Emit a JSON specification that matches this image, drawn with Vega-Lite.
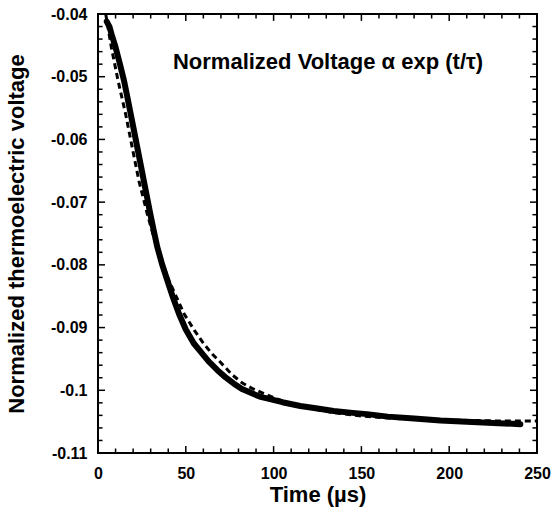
{
  "$schema": "https://vega.github.io/schema/vega-lite/v6.json",
  "width": 439,
  "height": 439,
  "autosize": {"type": "none"},
  "padding": {"left": 98, "top": 14, "right": 14, "bottom": 55},
  "background": "white",
  "config": {
    "view": {"stroke": "black", "strokeWidth": 2},
    "axis": {
      "grid": false,
      "domain": false,
      "ticks": false,
      "tickSize": 0,
      "labelFlush": false,
      "labelColor": "black",
      "titleColor": "black",
      "labelFont": "Liberation Sans",
      "titleFont": "Liberation Sans",
      "labelFontWeight": "bold",
      "titleFontWeight": "bold",
      "labelFontSize": 16,
      "titleFontSize": 22
    }
  },
  "datasets": {
    "measured": [
      {"t": 5.0, "v": -0.0412}, {"t": 6.5, "v": -0.0420}, {"t": 8.0, "v": -0.0435},
      {"t": 10.0, "v": -0.0453}, {"t": 12.4, "v": -0.0479}, {"t": 14.8, "v": -0.0506},
      {"t": 16.7, "v": -0.0532}, {"t": 18.6, "v": -0.0559}, {"t": 20.5, "v": -0.0586},
      {"t": 22.4, "v": -0.0613}, {"t": 24.3, "v": -0.0640}, {"t": 26.1, "v": -0.0666},
      {"t": 28.0, "v": -0.0693}, {"t": 29.8, "v": -0.0719}, {"t": 31.8, "v": -0.0746},
      {"t": 33.8, "v": -0.0772}, {"t": 36.5, "v": -0.0799}, {"t": 39.5, "v": -0.0825},
      {"t": 42.7, "v": -0.0852}, {"t": 46.1, "v": -0.0878}, {"t": 50.0, "v": -0.0903},
      {"t": 54.5, "v": -0.0925}, {"t": 58.3, "v": -0.0938}, {"t": 63.0, "v": -0.0954},
      {"t": 68.0, "v": -0.0968}, {"t": 72.5, "v": -0.0979}, {"t": 77.2, "v": -0.0989},
      {"t": 82.0, "v": -0.0998}, {"t": 87.0, "v": -0.1004}, {"t": 92.0, "v": -0.1010},
      {"t": 96.2, "v": -0.1013}, {"t": 105.0, "v": -0.1019}, {"t": 115.2, "v": -0.1025},
      {"t": 125.0, "v": -0.1029}, {"t": 134.2, "v": -0.1033}, {"t": 145.0, "v": -0.1036},
      {"t": 153.2, "v": -0.1038}, {"t": 165.0, "v": -0.1042}, {"t": 180.0, "v": -0.1045},
      {"t": 195.0, "v": -0.1048}, {"t": 210.0, "v": -0.1050}, {"t": 225.0, "v": -0.1052},
      {"t": 240.5, "v": -0.1054}
    ],
    "fit": [
      {"t": 4.4, "v": -0.0400}, {"t": 7.6, "v": -0.0453}, {"t": 11.4, "v": -0.0506},
      {"t": 15.7, "v": -0.0559}, {"t": 19.5, "v": -0.0613}, {"t": 23.3, "v": -0.0666},
      {"t": 28.1, "v": -0.0719}, {"t": 33.4, "v": -0.0772}, {"t": 40.4, "v": -0.0825},
      {"t": 49.0, "v": -0.0878}, {"t": 55.0, "v": -0.0905}, {"t": 60.0, "v": -0.0925},
      {"t": 65.0, "v": -0.0942}, {"t": 70.0, "v": -0.0956}, {"t": 76.3, "v": -0.0975},
      {"t": 82.0, "v": -0.0988}, {"t": 87.7, "v": -0.0997}, {"t": 95.0, "v": -0.1006},
      {"t": 105.0, "v": -0.1017}, {"t": 115.0, "v": -0.1025}, {"t": 125.0, "v": -0.1031},
      {"t": 135.0, "v": -0.1036}, {"t": 150.0, "v": -0.1041}, {"t": 170.0, "v": -0.1045},
      {"t": 190.0, "v": -0.1047}, {"t": 210.0, "v": -0.1048}, {"t": 230.0, "v": -0.1049},
      {"t": 250.0, "v": -0.1049}
    ],
    "note": [
      {"t": 131, "v": -0.0477, "text": "Normalized Voltage α exp (t/τ)"}
    ],
    "xmajor": [{"t": 50}, {"t": 100}, {"t": 150}, {"t": 200}],
    "xminor": [
      {"t": 10}, {"t": 20}, {"t": 30}, {"t": 40}, {"t": 60}, {"t": 70}, {"t": 80}, {"t": 90},
      {"t": 110}, {"t": 120}, {"t": 130}, {"t": 140}, {"t": 160}, {"t": 170}, {"t": 180}, {"t": 190},
      {"t": 210}, {"t": 220}, {"t": 230}, {"t": 240}
    ],
    "ymajor": [
      {"v": -0.05}, {"v": -0.06}, {"v": -0.07}, {"v": -0.08}, {"v": -0.09}, {"v": -0.1}
    ],
    "yminor": [
      {"v": -0.042}, {"v": -0.044}, {"v": -0.046}, {"v": -0.048},
      {"v": -0.052}, {"v": -0.054}, {"v": -0.056}, {"v": -0.058},
      {"v": -0.062}, {"v": -0.064}, {"v": -0.066}, {"v": -0.068},
      {"v": -0.072}, {"v": -0.074}, {"v": -0.076}, {"v": -0.078},
      {"v": -0.082}, {"v": -0.084}, {"v": -0.086}, {"v": -0.088},
      {"v": -0.092}, {"v": -0.094}, {"v": -0.096}, {"v": -0.098},
      {"v": -0.102}, {"v": -0.104}, {"v": -0.106}, {"v": -0.108}
    ]
  },
  "layer": [
    {
      "data": {"name": "measured"},
      "mark": {"type": "line", "color": "black", "strokeWidth": 6, "strokeCap": "round", "strokeJoin": "round", "clip": true},
      "encoding": {
        "x": {
          "field": "t", "type": "quantitative",
          "scale": {"domain": [0, 250], "nice": false, "zero": false},
          "axis": {"orient": "bottom", "values": [0, 50, 100, 150, 200, 250], "labelPadding": 12, "title": "Time (µs)", "titlePadding": 3}
        },
        "y": {
          "field": "v", "type": "quantitative",
          "scale": {"domain": [-0.11, -0.04], "nice": false, "zero": false},
          "axis": {"orient": "left", "values": [-0.04, -0.05, -0.06, -0.07, -0.08, -0.09, -0.1, -0.11], "labelPadding": 11, "labelExpr": "'-' + format(-datum.value, '~g')", "title": "Normalized thermoelectric voltage", "titlePadding": 22}
        }
      }
    },
    {
      "data": {"name": "fit"},
      "mark": {"type": "line", "color": "black", "strokeWidth": 3, "strokeDash": [6, 4], "clip": true},
      "encoding": {
        "x": {"field": "t", "type": "quantitative", "axis": null},
        "y": {"field": "v", "type": "quantitative", "axis": null}
      }
    },
    {
      "data": {"name": "xmajor"},
      "mark": {"type": "rule", "color": "black", "strokeWidth": 1.5},
      "encoding": {
        "x": {"field": "t", "type": "quantitative", "axis": null},
        "y": {"datum": -0.11, "type": "quantitative", "axis": null},
        "y2": {"datum": -0.1089}
      }
    },
    {
      "data": {"name": "xmajor"},
      "mark": {"type": "rule", "color": "black", "strokeWidth": 1.5},
      "encoding": {
        "x": {"field": "t", "type": "quantitative", "axis": null},
        "y": {"datum": -0.04, "type": "quantitative", "axis": null},
        "y2": {"datum": -0.0411}
      }
    },
    {
      "data": {"name": "xminor"},
      "mark": {"type": "rule", "color": "black", "strokeWidth": 1.5},
      "encoding": {
        "x": {"field": "t", "type": "quantitative", "axis": null},
        "y": {"datum": -0.11, "type": "quantitative", "axis": null},
        "y2": {"datum": -0.10928}
      }
    },
    {
      "data": {"name": "xminor"},
      "mark": {"type": "rule", "color": "black", "strokeWidth": 1.5},
      "encoding": {
        "x": {"field": "t", "type": "quantitative", "axis": null},
        "y": {"datum": -0.04, "type": "quantitative", "axis": null},
        "y2": {"datum": -0.04072}
      }
    },
    {
      "data": {"name": "ymajor"},
      "mark": {"type": "rule", "color": "black", "strokeWidth": 1.5},
      "encoding": {
        "y": {"field": "v", "type": "quantitative", "axis": null},
        "x": {"datum": 0, "type": "quantitative", "axis": null},
        "x2": {"datum": 4}
      }
    },
    {
      "data": {"name": "ymajor"},
      "mark": {"type": "rule", "color": "black", "strokeWidth": 1.5},
      "encoding": {
        "y": {"field": "v", "type": "quantitative", "axis": null},
        "x": {"datum": 250, "type": "quantitative", "axis": null},
        "x2": {"datum": 246}
      }
    },
    {
      "data": {"name": "yminor"},
      "mark": {"type": "rule", "color": "black", "strokeWidth": 1.5},
      "encoding": {
        "y": {"field": "v", "type": "quantitative", "axis": null},
        "x": {"datum": 0, "type": "quantitative", "axis": null},
        "x2": {"datum": 2.6}
      }
    },
    {
      "data": {"name": "yminor"},
      "mark": {"type": "rule", "color": "black", "strokeWidth": 1.5},
      "encoding": {
        "y": {"field": "v", "type": "quantitative", "axis": null},
        "x": {"datum": 250, "type": "quantitative", "axis": null},
        "x2": {"datum": 247.4}
      }
    },
    {
      "data": {"name": "note"},
      "mark": {"type": "text", "font": "Liberation Sans", "fontWeight": "bold", "fontSize": 22, "align": "center", "baseline": "middle", "color": "black"},
      "encoding": {
        "x": {"field": "t", "type": "quantitative", "axis": null},
        "y": {"field": "v", "type": "quantitative", "axis": null},
        "text": {"field": "text"}
      }
    }
  ],
  "resolve": {"axis": {"x": "independent", "y": "independent"}}
}
